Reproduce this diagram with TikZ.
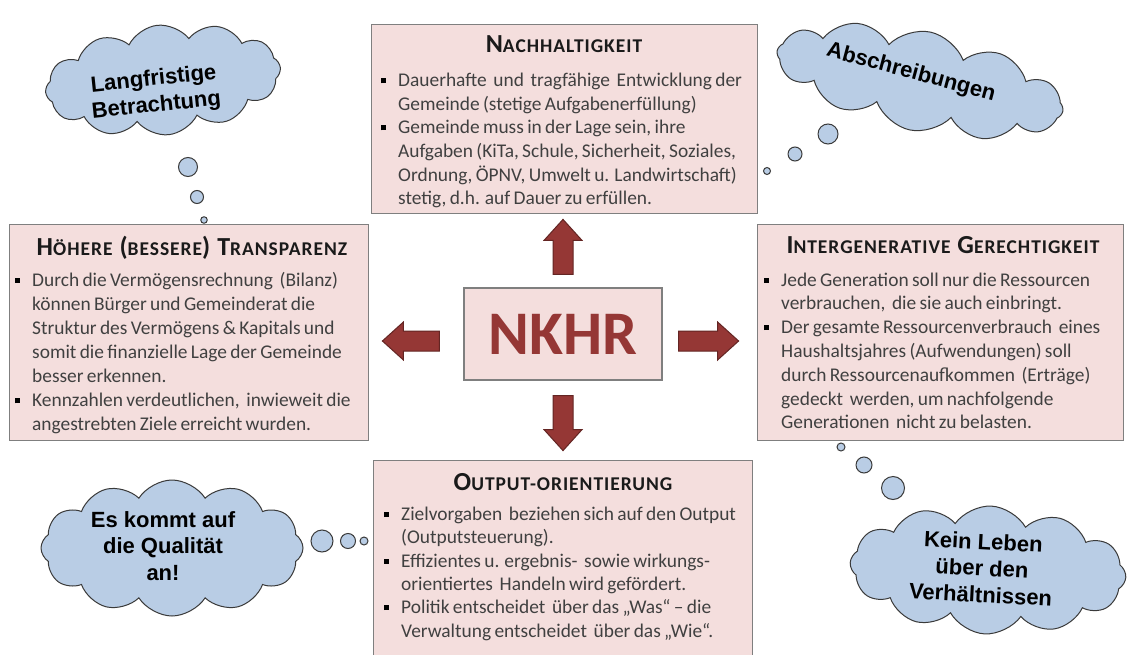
\documentclass[tikz,border=0pt]{standalone}
\usepackage{fontspec}
\setmainfont{Carlito}
\newfontfamily\cloudfont{Liberation Sans}
\usetikzlibrary{shapes.symbols,calc}
\definecolor{boxfill}{HTML}{F4DEDD}
\definecolor{boxline}{HTML}{7F7F7F}
\definecolor{arrfill}{HTML}{953735}
\definecolor{arrline}{HTML}{632523}
\definecolor{cloudfill}{HTML}{B9CDE5}
\definecolor{cloudline}{HTML}{3A3A3A}
\definecolor{bodytext}{HTML}{404040}
\definecolor{titletext}{HTML}{1A1A1A}
\newcommand\tBig[1]{{\fontsize{26}{28}\selectfont #1}}
\newcommand\tSm[1]{{\fontsize{19.5}{28}\selectfont\addfontfeature{LetterSpace=5}#1}}
\newcommand\tGap{\hspace{7pt}}
\newcommand\bitem{\par\noindent\hangindent=18pt\hangafter=1\makebox[18pt][l]{\hspace{1pt}\textcolor{black}{\rule[3.5pt]{5pt}{5pt}}}}
\newcommand\bodyfont{\fontsize{19.4}{23.6}\selectfont\color{bodytext}}
\newcommand\blockarrow[3]{%
  \draw[arrstyle,shift={#1},rotate=#2] (0,-10) -- ({#3-21},-10) -- ({#3-21},-19) -- (#3,0) -- ({#3-21},19) -- ({#3-21},10) -- (0,10) -- cycle;}
\begin{document}
\begin{tikzpicture}[x=1pt,y=-1pt,
  bigbox/.style={draw=boxline,line width=1.2pt,fill=boxfill,inner sep=0,anchor=north west},
  bodytxt/.style={anchor=north west,inner sep=0,text width=420pt},
  titletxt/.style={anchor=base,inner sep=0,font=\bfseries,text=titletext},
  arrstyle/.style={fill=arrfill,draw=arrline,line width=1pt,line join=miter},
  cloudbox/.style={cloud,cloud puffs=12,cloud puff arc=115,cloud ignores aspect,draw=cloudline,fill=cloudfill,line width=1pt,inner sep=0},
  cloudtxt/.style={inner sep=0,align=center,font=\cloudfont\bfseries\fontsize{22}{26.5}\selectfont,text=black},
  bubble/.style={circle,draw=cloudline,fill=cloudfill,line width=1pt,inner sep=0}
]
\useasboundingbox (0,0) rectangle (1131,655);
\fill[white] (0,0) rectangle (1131,655);

% ---------- boxes ----------
\node[bigbox,minimum width=386,minimum height=189] (nach) at (371,24) {};
\node[bigbox,minimum width=359,minimum height=216] (trans) at (9,224) {};
\node[bigbox,minimum width=366,minimum height=216] (gen) at (757,224) {};
\node[bigbox,minimum width=379,minimum height=210] (out) at (373,460) {};
\node[draw=boxline,line width=1.2pt,fill=boxfill,minimum width=198,minimum height=92,inner sep=0,
  font=\bfseries\fontsize{62}{62}\selectfont,text=arrfill] (nkhr) at (563,334) {NKHR};

% ---------- titles ----------
\node[titletxt] (nachtit) at (564,53) {\tBig{N}\tSm{ACHHALTIGKEIT}};
\node[titletxt] (transtit) at (192,255) {\tBig{H}\tSm{ÖHERE}\tGap\tBig{(}\tSm{BESSERE}\tBig{)}\tGap\tBig{T}\tSm{RANSPARENZ}};
\node[titletxt] (gentit) at (943,253) {\tBig{I}\tSm{NTERGENERATIVE}\tGap\tBig{G}\tSm{ERECHTIGKEIT}};
\node[titletxt] (outtit) at (563,490) {\tBig{O}\tSm{UTPUT-ORIENTIERUNG}};

% ---------- bodies ----------
\node[bodytxt] (nachbody) at (380,63) {\bodyfont
 \bitem\rule{0pt}{20pt}Dauerhafte \ und \ tragfähige \ Entwicklung der\newline Gemeinde (stetige Aufgabenerfüllung)
 \bitem Gemeinde muss in der Lage sein, ihre\newline Aufgaben (KiTa, Schule, Sicherheit, Soziales,\newline Ordnung, ÖPNV, Umwelt u. Landwirtschaft)\newline stetig, d.h. auf Dauer zu erfüllen.\par};

\node[bodytxt] (transbody) at (14,262) {\bodyfont\baselineskip=24.1pt
 \bitem\rule{0pt}{20pt}Durch die Vermögensrechnung \ (Bilanz)\newline können Bürger und Gemeinderat die\newline Struktur des Vermögens \& Kapitals und\newline somit die finanzielle Lage der Gemeinde\newline besser erkennen.
 \bitem Kennzahlen verdeutlichen, \ inwieweit die\newline angestrebten Ziele erreicht wurden.\par};

\node[bodytxt] (genbody) at (763,262) {\bodyfont\baselineskip=23.8pt
 \bitem\rule{0pt}{20pt}Jede Generation soll nur die Ressourcen\newline verbrauchen, \ die sie auch einbringt.
 \bitem Der gesamte Ressourcenverbrauch \ eines\newline Haushaltsjahres (Aufwendungen) soll\newline durch Ressourcenaufkommen \ (Erträge)\newline gedeckt \ werden, um nachfolgende\newline Generationen \ nicht zu belasten.\par};

\node[bodytxt] (outbody) at (383,497) {\bodyfont\baselineskip=23.3pt
 \bitem\rule{0pt}{20pt}Zielvorgaben \ beziehen sich auf den Output\newline (Outputsteuerung).
 \bitem Effizientes u. ergebnis- \ sowie wirkungs-\newline orientiertes \ Handeln wird gefördert.
 \bitem Politik entscheidet \ über das „Was“ – die\newline Verwaltung entscheidet \ über das „Wie“.\par};

% ---------- block arrows ----------
\blockarrow{($(nkhr.north)+(0,-13)$)}{90}{55}
\blockarrow{($(nkhr.south)+(0,15)$)}{-90}{55}
\blockarrow{($(nkhr.west)+(-24,7)$)}{180}{57}
\blockarrow{($(nkhr.east)+(16,7)$)}{0}{60}

% ---------- clouds ----------
\node[cloudbox,minimum width=236,minimum height=110,rotate=6] (cL) at (163,80) {};
\node[cloudtxt,rotate=6] (tL) at (155,93) {Langfristige\\Betrachtung};
\node[bubble,minimum size=19] (bL1) at (188,167) {};
\node[bubble,minimum size=13] (bL2) at (197,197) {};
\node[bubble,minimum size=6.5] (bL3) at (204,220) {};

\node[cloudbox,minimum width=292,minimum height=100,rotate=-12] (cA) at (920,81) {};
\node[cloudtxt,rotate=-15] (tA) at (911,73) {Abschreibungen};
\node[bubble,minimum size=20] (bA1) at (828,134) {};
\node[bubble,minimum size=14] (bA2) at (795,154) {};
\node[bubble,minimum size=7] (bA3) at (767,171) {};

\node[cloudbox,minimum width=262,minimum height=136] (cE) at (172,548) {};
\node[cloudtxt] (tE) at (163,546) {Es kommt auf\\die Qualität\\an!};
\node[bubble,minimum size=22] (bE1) at (322,541) {};
\node[bubble,minimum size=15] (bE2) at (348,541) {};
\node[bubble,minimum size=8] (bE3) at (364,541) {};

\node[cloudbox,minimum width=276,minimum height=128,rotate=-3] (cK) at (988,570) {};
\node[cloudtxt,rotate=-3] (tK) at (982,568) {Kein Leben\\über den\\Verhältnissen};
\node[bubble,minimum size=8] (bK1) at (841,447) {};
\node[bubble,minimum size=16] (bK2) at (864,465) {};
\node[bubble,minimum size=23] (bK3) at (893,488) {};
\end{tikzpicture}
\end{document}
